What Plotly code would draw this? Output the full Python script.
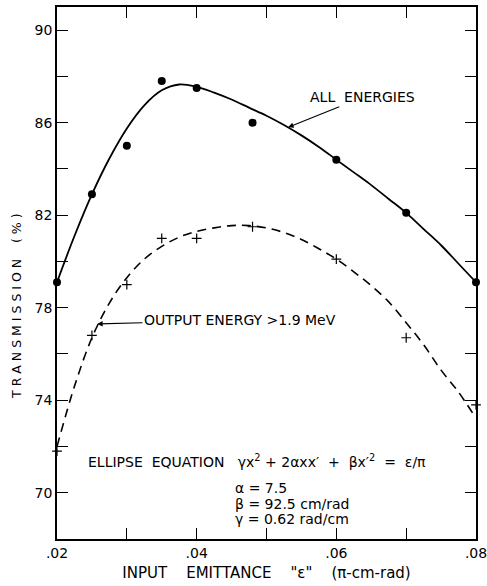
import plotly.graph_objects as go

# Measured points: all energies (filled circles)
all_x = [0.020, 0.025, 0.030, 0.035, 0.040, 0.048, 0.060, 0.070, 0.080]
all_y = [79.1, 82.9, 85.0, 87.8, 87.5, 86.0, 84.4, 82.1, 79.1]

# Smooth curve drawn through all-energies data
all_fit_x = [0.020, 0.0225, 0.025, 0.0275, 0.030, 0.0325, 0.035, 0.0375, 0.040,
             0.0425, 0.045, 0.0475, 0.050, 0.0525, 0.055, 0.0575, 0.060, 0.0625,
             0.065, 0.0675, 0.070, 0.0725, 0.075, 0.0775, 0.080]
all_fit_y = [79.1, 81.1, 82.9, 84.45, 85.75, 86.75, 87.4, 87.65, 87.55,
             87.3, 87.0, 86.65, 86.3, 85.9, 85.45, 84.95, 84.4, 83.85,
             83.3, 82.7, 82.1, 81.4, 80.7, 79.9, 79.1]

# Measured points: output energy > 1.9 MeV (plus markers)
out_x = [0.020, 0.025, 0.030, 0.035, 0.040, 0.048, 0.060, 0.070, 0.080]
out_y = [71.8, 76.8, 79.0, 81.0, 81.0, 81.5, 80.1, 76.7, 73.8]

# Dashed fit curve for output energy > 1.9 MeV
out_fit_x = [0.020, 0.0225, 0.025, 0.0275, 0.030, 0.0325, 0.035, 0.0375, 0.040,
             0.0425, 0.045, 0.0475, 0.050, 0.0525, 0.055, 0.0575, 0.060, 0.0625,
             0.065, 0.0675, 0.070, 0.0725, 0.075, 0.0775, 0.0795]
out_fit_y = [72.0, 74.6, 76.7, 78.2, 79.3, 80.1, 80.65, 81.05, 81.3,
             81.45, 81.55, 81.55, 81.45, 81.25, 80.95, 80.55, 80.1, 79.55,
             78.95, 78.25, 77.35, 76.4, 75.3, 74.35, 73.45]

x_tickvals = [0.02, 0.04, 0.06, 0.08]
x_ticktext = [".02", ".04", ".06", ".08"]
y_tickvals = [70, 74, 78, 82, 86, 90]
y_ticktext = ["70", "74", "78", "82", "86", "90"]

FONT = "DejaVu Sans"

fig = go.Figure()
fig.add_trace(go.Scatter(x=all_fit_x, y=all_fit_y, mode="lines",
                         line=dict(color="black", width=1.8, shape="spline", smoothing=1),
                         hoverinfo="skip", showlegend=False))
fig.add_trace(go.Scatter(x=all_x, y=all_y, mode="markers",
                         marker=dict(color="black", size=8, symbol="circle"),
                         cliponaxis=False, showlegend=False))
fig.add_trace(go.Scatter(x=out_fit_x, y=out_fit_y, mode="lines",
                         line=dict(color="black", width=1.6, dash="9px,6px",
                                   shape="spline", smoothing=1),
                         hoverinfo="skip", showlegend=False))
fig.add_trace(go.Scatter(x=out_x, y=out_y, mode="markers",
                         marker=dict(color="black", size=7, symbol="cross-thin",
                                     line=dict(color="black", width=1.2)),
                         cliponaxis=False, showlegend=False))

axis_common = dict(showline=True, mirror="ticks", linecolor="black", linewidth=1.5,
                   ticks="inside", ticklen=11, tickwidth=1.3, tickcolor="black",
                   showgrid=False, zeroline=False, ticklabeloverflow="allow",
                   automargin=False,
                   tickfont=dict(family=FONT, size=14, color="black"))

fig.update_xaxes(range=[0.0199999, 0.0800001], tickvals=x_tickvals, ticktext=x_ticktext,
                 minor=dict(tick0=0.02, dtick=0.01, ticks="inside", ticklen=11,
                            tickwidth=1.3, tickcolor="black", showgrid=False),
                 title=dict(text="INPUT    EMITTANCE    \"ε\"    (π-cm-rad)",
                            font=dict(family=FONT, size=15, color="black"), standoff=8),
                 **axis_common)
fig.update_yaxes(range=[68, 91], tickvals=y_tickvals, ticktext=y_ticktext,
                 minor=dict(tick0=70, dtick=2, ticks="inside", ticklen=11,
                            tickwidth=1.3, tickcolor="black", showgrid=False),
                 **axis_common)

# Y axis title as a rotated annotation (positioned like the reference)
ytitle = " ".join("TRANSMISSION") + "    ( % )"
fig.add_annotation(xref="paper", yref="paper", x=-0.0955, y=0.438, text=ytitle,
                   textangle=-90, showarrow=False, xanchor="center", yanchor="middle",
                   font=dict(family=FONT, size=12.5, color="black"))

ann_font = dict(family=FONT, size=14, color="black")
# ALL ENERGIES label with arrow to the solid curve
fig.add_annotation(x=0.0531, y=85.8, ax=0.0638, ay=87.1, axref="x", ayref="y",
                   text="ALL  ENERGIES", showarrow=True, arrowhead=2, arrowsize=1,
                   arrowwidth=1.1, arrowcolor="black", font=ann_font)
# OUTPUT ENERGY label with arrow to the dashed curve
fig.add_annotation(x=0.02575, y=77.3, ax=0.0462, ay=77.45, axref="x", ayref="y",
                   text="OUTPUT ENERGY >1.9 MeV", showarrow=True, arrowhead=2,
                   arrowsize=1, arrowwidth=1.1, arrowcolor="black", font=ann_font)
# Ellipse equation
fig.add_annotation(x=0.0242, y=71.39,
                   text="ELLIPSE  EQUATION   γx<sup>2</sup> + 2αxx′  +  βx′<sup>2</sup>  =  ε/π",
                   showarrow=False, font=ann_font, xanchor="left", yanchor="middle")
fig.add_annotation(x=0.0452, y=70.22, text="α = 7.5", showarrow=False,
                   font=ann_font, xanchor="left", yanchor="middle")
fig.add_annotation(x=0.0452, y=69.53, text="β = 92.5 cm/rad", showarrow=False,
                   font=ann_font, xanchor="left", yanchor="middle")
fig.add_annotation(x=0.0452, y=68.88, text="γ = 0.62 rad/cm", showarrow=False,
                   font=ann_font, xanchor="left", yanchor="middle")

fig.update_layout(width=487, height=586,
                  margin=dict(l=57, r=11, t=7, b=47),
                  paper_bgcolor="white", plot_bgcolor="white",
                  font=dict(family=FONT, color="black"))

fig.write_html("out.html")
